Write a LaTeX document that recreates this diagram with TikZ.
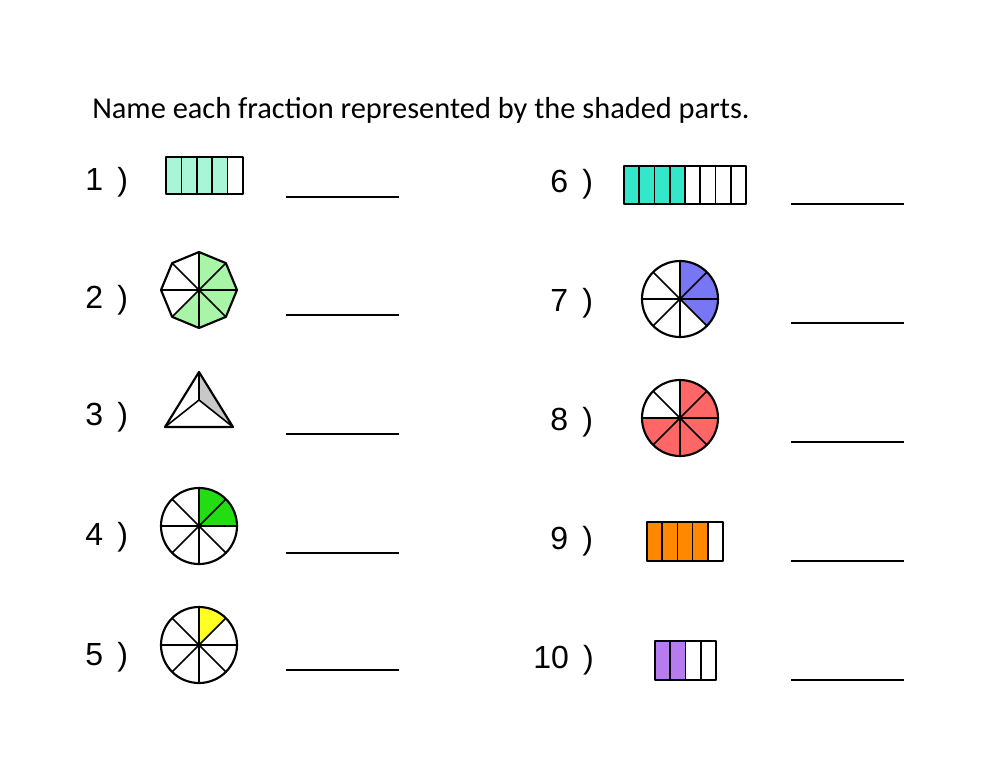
\documentclass[tikz,border=0pt]{standalone}
\usepackage{fontspec}
\usetikzlibrary{calc}
\setmainfont{Liberation Sans}
\newfontfamily\titlefont{Carlito}
\definecolor{c1}{HTML}{A8F5D8}
\definecolor{c2}{HTML}{A8F5A8}
\definecolor{c3}{HTML}{C8C8C8}
\definecolor{c4}{HTML}{22DD11}
\definecolor{c5}{HTML}{FFFF22}
\definecolor{c6}{HTML}{33E8C8}
\definecolor{c7}{HTML}{7777F5}
\definecolor{c8}{HTML}{FF6666}
\definecolor{c9}{HTML}{FF8800}
\definecolor{c10}{HTML}{B57BEF}
\newcommand{\fracbar}[7]{%
  \pgfmathsetmacro\w{(#3-#1)/#5}
  \fill[#7] (#1,-#2) rectangle ({#1+#6*\w},-#4);
  \foreach \i in {1,...,\numexpr#5-1\relax} \draw[thinl] ({#1+\i*\w},-#2) -- ({#1+\i*\w},-#4);
  \draw[outl] (#1,-#2) rectangle (#3,-#4);}
\newcommand{\fraccirc}[5]{%
  \fill[#5] (#1,-#2) -- ++(#3:38) arc[start angle=#3,end angle=#4,radius=38] -- cycle;
  \foreach \a in {0,45,90,135} \draw[thinl] ($(#1,-#2)+(\a:38)$) -- ($(#1,-#2)+(\a+180:38)$);
  \draw[outl] (#1,-#2) circle[radius=38];}
\begin{document}
\begin{tikzpicture}[x=0.75pt,y=0.75pt,
  lab/.style={font=\fontsize{24}{26}\selectfont,anchor=west,inner sep=0},
  blank/.style={line width=1.8pt},
  outl/.style={line width=1.6pt,line join=round},
  thinl/.style={line width=1.2pt}]
\useasboundingbox (0,0) rectangle (1000,-772);
\fill[white] (0,0) rectangle (1000,-772);
\node[anchor=base west,inner sep=0,font=\titlefont\fontsize{22.8}{26}\selectfont] (title) at (92,-118) {Name each fraction represented by the shaded parts.};
\node[lab] (l1) at (85,-182) {1 \,)};
\node[lab] (l2) at (85,-300) {2 \,)};
\node[lab] (l3) at (85,-417) {3 \,)};
\node[lab] (l4) at (85,-537) {4 \,)};
\node[lab] (l5) at (85,-657) {5 \,)};
\node[lab] (l6) at (550,-184) {6 \,)};
\node[lab] (l7) at (550,-303) {7 \,)};
\node[lab] (l8) at (550,-422) {8 \,)};
\node[lab] (l9) at (550,-541) {9 \,)};
\node[lab] (l10) at (533,-660) {10 \,)};
\foreach \y in {197,315,434,553,670} \draw[blank] (286,-\y) -- (399,-\y);
\foreach \y in {204,323,442,561,680} \draw[blank] (791,-\y) -- (904,-\y);
\fracbar{166}{157}{243}{194}{5}{4}{c1}
\fracbar{624}{166}{746}{204}{8}{4}{c6}
\fracbar{647}{522}{723}{561}{5}{4}{c9}
\fracbar{655}{641}{716}{680}{4}{2}{c10}
% octagon
\fill[c2] (199,-290) -- ($(199,-290)+(90:38)$) -- ($(199,-290)+(45:38)$) -- ($(199,-290)+(0:38)$) -- ($(199,-290)+(-45:38)$) -- ($(199,-290)+(-90:38)$) -- ($(199,-290)+(-135:38)$) -- cycle;
\foreach \a in {0,45,90,135} \draw[thinl] ($(199,-290)+(\a:38)$) -- ($(199,-290)+(\a+180:38)$);
\draw[outl] ($(199,-290)+(0:38)$) \foreach \a in {45,90,...,315} {-- ($(199,-290)+(\a:38)$)} -- cycle;
\fill (199,-290) circle[radius=2.5];
% triangle
\coordinate (ta) at (199,-372);
\coordinate (tb) at (165,-427);
\coordinate (tc) at (233,-427);
\coordinate (to) at (199,-400);
\fill[c3] (ta) -- (tc) -- (to) -- cycle;
\draw[thinl] (ta) -- (to) (tb) -- (to) -- (tc);
\draw[outl] (ta) -- (tb) -- (tc) -- cycle;
% circles
\fraccirc{199}{526}{90}{0}{c4}
\fraccirc{199}{645}{90}{45}{c5}
\fraccirc{680}{299}{90}{-45}{c7}
\fraccirc{680}{418}{90}{-180}{c8}
\end{tikzpicture}
\end{document}
